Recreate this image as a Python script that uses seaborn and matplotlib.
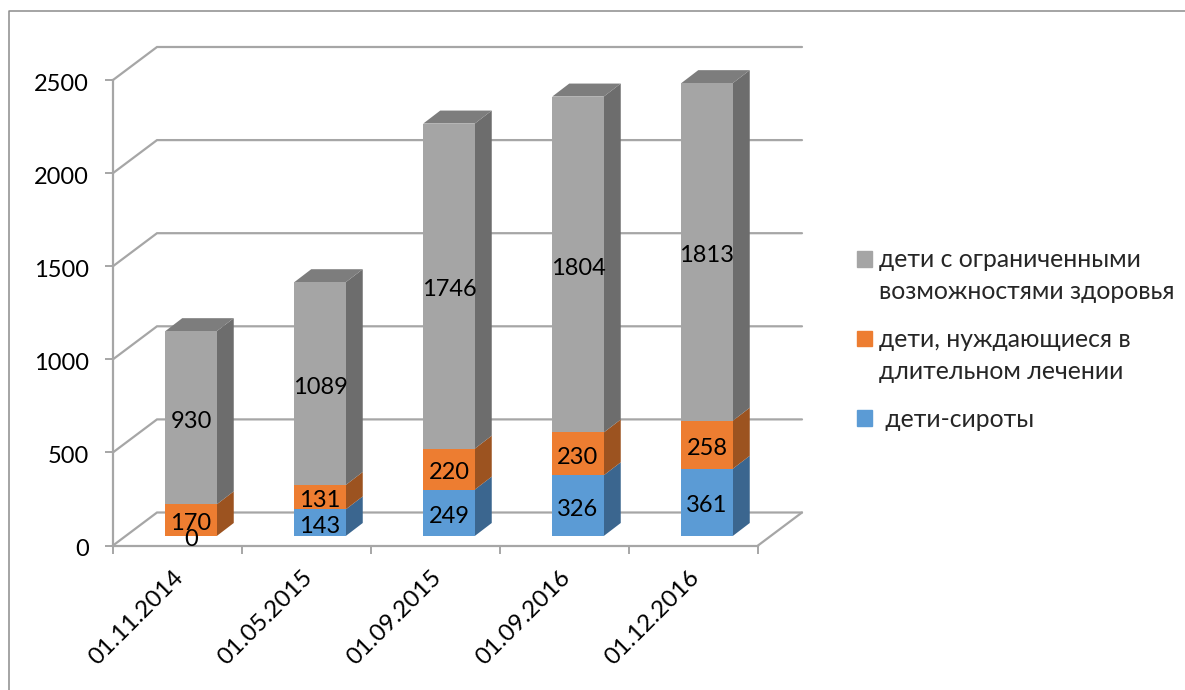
#!/usr/bin/env python3
"""Stacked pseudo-3D bars: children categories by date"""
import numpy as np
import pandas as pd
import matplotlib
matplotlib.use("Agg")
import matplotlib.pyplot as plt
from matplotlib.lines import Line2D
from matplotlib.patches import Patch
from matplotlib.transforms import ScaledTranslation
import seaborn as sns

dates = ["01.11.2014", "01.05.2015", "01.09.2015", "01.09.2016", "01.12.2016"]
orphans = [0, 143, 249, 326, 361]
treatment = [170, 131, 220, 230, 258]
disabled = [930, 1089, 1746, 1804, 1813]
y_ticks = [0, 500, 1000, 1500, 2000, 2500]

label_orphans = " дети-сироты"
label_treatment = "дети, нуждающиеся в\nдлительном лечении"
label_disabled = "дети с ограниченными\nвозможностями здоровья"

BLUE, BLUE_SIDE = "#5b9bd5", "#3b668f"
ORANGE, ORANGE_SIDE = "#ed7d31", "#9c5320"
GREY, GREY_SIDE, GREY_TOP = "#a5a5a5", "#6d6d6d", "#7d7d7d"
LINE = "#a6a6a6"
W, H = 1185, 690
FONT = 17

sns.set_theme(style="white")
plt.rcParams["font.family"] = ["Lato", "Open Sans", "DejaVu Sans"]
plt.rcParams["font.size"] = FONT

fig = plt.figure(figsize=(W / 100, H / 100), dpi=100)
ax = fig.add_axes([113 / W, 1 - 545.5 / H, 645 / W, 465.5 / H])

# one pixel in data units, used for the oblique depth
px_x = len(dates) / 645
px_y = 2500 / 465.5

df = pd.DataFrame({"date": dates, "orphans": orphans, "treatment": treatment, "disabled": disabled})
series = [
    ("orphans", BLUE, BLUE_SIDE),
    ("treatment", ORANGE, ORANGE_SIDE),
    ("disabled", GREY, GREY_SIDE),
]

shift_x, shift_y = 13.5 * px_x, 9.5 * px_y
depth_x, depth_y = 17 * px_x, 13 * px_y
wall_x, wall_y = 44 * px_x, 33 * px_y
bar_width = 51.5 / 129

bottom = np.zeros(len(dates))
for col, color, side in series:
    n_before = len(ax.patches)
    sns.barplot(data=df, x="date", y=col, color=color, width=bar_width, saturation=1,
                bottom=bottom, linewidth=0, zorder=3, ax=ax)
    values = df[col].to_numpy()
    for i, patch in enumerate(ax.patches[n_before:]):
        patch.set_x(patch.get_x() + shift_x)
        patch.set_y(patch.get_y() + shift_y)
        x1 = patch.get_x() + patch.get_width()
        y0 = bottom[i] + shift_y
        y1 = y0 + values[i]
        ax.fill([x1, x1 + depth_x, x1 + depth_x, x1],
                [y0, y0 + depth_y, y1 + depth_y, y1],
                color=side, lw=0, zorder=2.9, clip_on=False)
        if col == "disabled":
            x0 = patch.get_x()
            ax.fill([x0, x0 + depth_x, x1 + depth_x, x1],
                    [y1, y1 + depth_y, y1 + depth_y, y1],
                    color=GREY_TOP, lw=0, zorder=2.9, clip_on=False)
        ax.text(i + shift_x, bottom[i] + values[i] / 2 + shift_y - 3.5 * px_y, str(values[i]),
                ha="center", va="center", color="black", zorder=5, clip_on=False)
    bottom = bottom + values

# walls: gridlines go back along the side wall and then across the back
x_left, x_right = -0.5, len(dates) - 0.5
for v in y_ticks:
    ax.plot([x_left, x_left + wall_x, x_right + wall_x],
            [v, v + wall_y, v + wall_y], color=LINE, lw=1.6, zorder=1,
            clip_on=False, solid_joinstyle="miter")
ax.plot([x_right + wall_x, x_right], [wall_y, 0], color=LINE, lw=1.6, zorder=1, clip_on=False)

ax.set_xlim(x_left, x_right)
ax.set_ylim(0, 2500)
ax.set_xlabel("")
ax.set_ylabel("")
ax.set_yticks(y_ticks)
ax.set_xticks(np.arange(len(dates)))
ax.set_xticks(np.arange(len(dates) + 1) - 0.5, minor=True)
ax.set_xticklabels(dates, rotation=45, ha="right", va="center", rotation_mode="anchor")

ax.tick_params(axis="y", length=6, width=1.4, color=LINE, pad=11.5, labelsize=FONT, labelcolor="black", left=True)
ax.tick_params(axis="x", which="major", length=0, labelsize=17.4, labelcolor="black")
ax.tick_params(axis="x", which="minor", length=6, width=1.4, color=LINE, bottom=True)

# has to come after tick_params, which resets the label transforms
for lab in ax.get_xticklabels():
    lab.set_transform(lab.get_transform() + ScaledTranslation(2 / 72, -17 / 72, fig.dpi_scale_trans))
for lab in ax.get_yticklabels():
    lab.set_transform(lab.get_transform() + ScaledTranslation(0, -1.8 / 72, fig.dpi_scale_trans))

for name, spine in ax.spines.items():
    spine.set_visible(name in ("left", "bottom"))
    spine.set_color(LINE)
    spine.set_linewidth(1.6)
ax.patch.set_alpha(0)

legend_font = 17.8
handles = [Patch(color=GREY), Patch(color=ORANGE), Patch(color=BLUE)]
legend = fig.legend(handles, [label_disabled, label_treatment, label_orphans],
                    loc="upper left", bbox_to_anchor=(837 / W, 1 - 228.5 / H), frameon=False,
                    handlelength=0.61, handleheight=0.61, handletextpad=0.28,
                    labelspacing=1.0, borderpad=0.3, fontsize=legend_font)
for text in legend.get_texts():
    text.set_linespacing(1.48)
# two-line entries: square sits level with the first line
for handle in legend.legend_handles[:2]:
    handle.set_y(handle.get_y() + 18 * 0.72)

# outer chart border, cut off by the picture at right and bottom
fig.add_artist(Line2D([9 / W, 9 / W, 1], [0, 1 - 10.5 / H, 1 - 10.5 / H], color="#8c8c8c", lw=1.1))

fig.savefig("out.png", dpi=100, facecolor="white")
plt.close(fig)
